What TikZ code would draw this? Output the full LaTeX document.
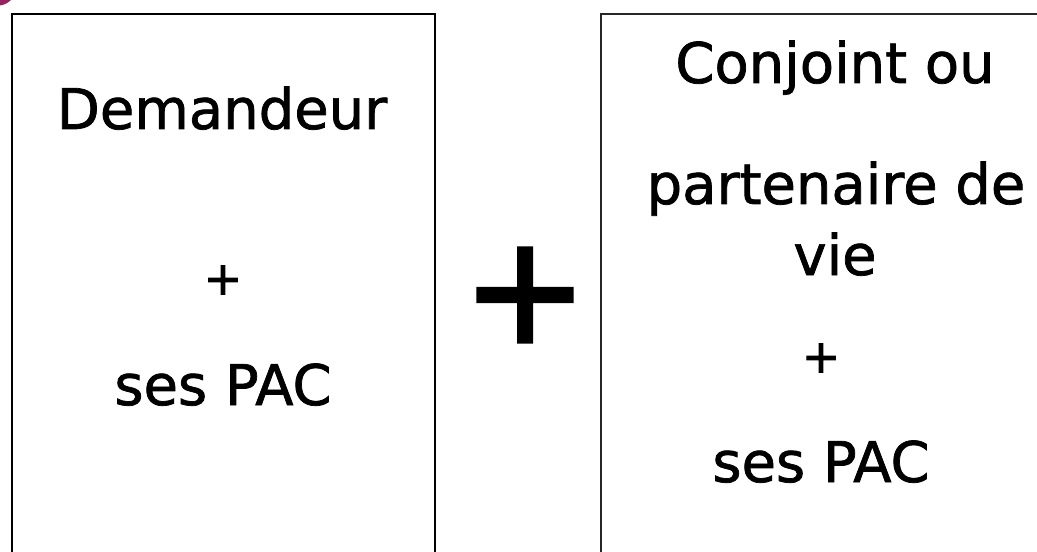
\documentclass[tikz,border=0pt]{standalone}
\usepackage{fontspec}
\setmainfont{DejaVu Sans}[FakeBold=1.3]
\newfontfamily\plusfont{DejaVu Sans}[FakeBold=2.5]
\definecolor{markpink}{RGB}{150,35,95}
\begin{document}
\begin{tikzpicture}[x=0.75pt,y=-0.75pt,
  lbl/.style={anchor=base,inner sep=0pt,font=\fontsize{42}{50}\selectfont},
  smallplus/.style={anchor=center,inner sep=0pt,font=\plusfont\fontsize{34}{40}\selectfont},
  bigplus/.style={anchor=center,inner sep=0pt,font=\plusfont\fontsize{112}{130}\selectfont},
  leftbox/.style={draw=black,line width=2.1pt},
  rightbox/.style={draw=black!85,line width=1.5pt}]
\useasboundingbox (0,0) rectangle (1037,552);
\clip (0,0) rectangle (1037,552);
\fill[white] (0,0) rectangle (1037,552);
% small pink mark at corner
\fill[markpink] (0,0) -- (11,0) .. controls (8,3) and (4,5) .. (0,5.5) -- cycle;
% boxes
\path[leftbox] (12,14) rectangle (435,600);
\path[rightbox] (601,14) rectangle (1060,600);
% left box texts
\node[lbl] (dem) at (222,129) {Demandeur};
\node[smallplus] (lplus) at (223,280) {+};
\node[lbl] (lpac) at (223,405) {ses PAC};
% big plus
\node[bigplus] (plus) at (525,295) {+};
% right box texts
\node[lbl] (conj) at (835,83) {Conjoint ou};
\node[lbl] (part) at (836,204) {partenaire de};
\node[lbl] (vie) at (835,275) {vie};
\node[smallplus] (rplus) at (821,358) {+};
\node[lbl] (rpac) at (821,482) {ses PAC};
\end{tikzpicture}
\end{document}
